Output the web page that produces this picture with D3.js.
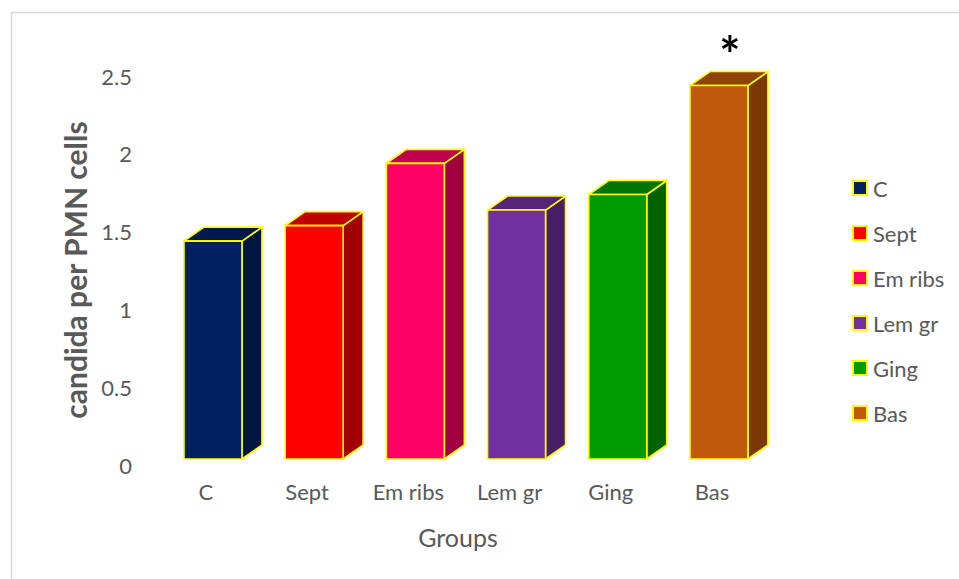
<!DOCTYPE html>
<html>
<head>
<meta charset="utf-8">
<script src="https://cdn.jsdelivr.net/npm/d3@7"></script>
<style>
  html, body { margin: 0; padding: 0; background: #ffffff; }
  svg { display: block; }
  text { font-family: Lato, "Open Sans", sans-serif; fill: #595959; }
</style>
</head>
<body>
<svg id="chart" width="959" height="579"></svg>
<script>
// Group names and mean candida counts per PMN cell
const categories = ["C", "Sept", "Em ribs", "Lem gr", "Ging", "Bas"];
const values = [1.4, 1.5, 1.9, 1.6, 1.7, 2.4];
const yTicks = [0, 0.5, 1, 1.5, 2, 2.5];
const significant = ["Bas"];

// Face colours per group: front, top, side
const palette = {
  "C":       ["#002060", "#001a4e", "#001540"],
  "Sept":    ["#ff0000", "#bf0000", "#a00000"],
  "Em ribs": ["#ff0066", "#bf004c", "#a0003f"],
  "Lem gr":  ["#7030a0", "#552479", "#481f66"],
  "Ging":    ["#009900", "#007400", "#006100"],
  "Bas":     ["#c05a0a", "#8f4307", "#7a3906"]
};

const svg = d3.select("#chart");

// Outer chart frame
svg.append("rect")
  .attr("x", 11.5).attr("y", 12.5)
  .attr("width", 960).attr("height", 580)
  .attr("fill", "none").attr("stroke", "#d9d9d9").attr("stroke-width", 1.5);

const x = d3.scaleBand()
  .domain(categories)
  .range([153.6, 778.3])
  .paddingInner(0.427)
  .paddingOuter(0.3);

const y = d3.scaleLinear().domain([0, 2.5]).range([466, 77]);

// Oblique depth of each column
const depthX = 20, depthY = -14, setBack = 7;

// Value axis labels
const yAxis = d3.axisLeft(y).tickValues(yTicks).tickSize(0).tickPadding(0)
  .tickFormat(d3.format("~g"));
const gy = svg.append("g").attr("transform", "translate(132,0)").call(yAxis);
gy.select(".domain").remove();
gy.selectAll("text").style("font-size", "22px").attr("fill", "#595959")
  .style("font-family", "Lato, 'Open Sans', sans-serif");

// Category labels
const xAxis = d3.axisBottom(x).tickSize(0).tickPadding(0);
const gx = svg.append("g").attr("transform", "translate(-7,484)").call(xAxis);
gx.select(".domain").remove();
gx.selectAll("text").style("font-size", "22px").attr("fill", "#595959")
  .style("font-family", "Lato, 'Open Sans', sans-serif");

// 3D columns
const bars = svg.append("g").selectAll("g.bar")
  .data(categories.map((c, i) => ({ c, v: values[i] })))
  .join("g").attr("class", "bar");

bars.each(function(d) {
  const g = d3.select(this);
  const x0 = x(d.c), w = x.bandwidth();
  const yb = y(0) - setBack, yt = y(d.v) - setBack;
  const [front, top, side] = palette[d.c];
  const poly = pts => pts.map(p => p.join(",")).join(" ");
  const edge = sel => sel.attr("stroke", "#ffff00").attr("stroke-width", 1.6)
    .attr("stroke-linejoin", "round");

  g.append("polygon")
    .attr("points", poly([[x0 + w, yt], [x0 + w + depthX, yt + depthY], [x0 + w + depthX, yb + depthY], [x0 + w, yb]]))
    .attr("fill", side).call(edge);
  g.append("polygon")
    .attr("points", poly([[x0, yt], [x0 + depthX, yt + depthY], [x0 + w + depthX, yt + depthY], [x0 + w, yt]]))
    .attr("fill", top).call(edge);
  g.append("rect")
    .attr("x", x0).attr("y", yt).attr("width", w).attr("height", yb - yt)
    .attr("fill", front).call(edge);
});

// Significance marker
svg.append("g").selectAll("text.star")
  .data(significant)
  .join("text").attr("class", "star")
  .attr("x", d => x(d) + x.bandwidth() / 2 + 11)
  .attr("y", d => y(values[categories.indexOf(d)]) - setBack - 13)
  .attr("text-anchor", "middle")
  .style("font-size", "50px").style("font-weight", "bold").style("fill", "#000000")
  .text("*");

// Axis titles
svg.append("text")
  .attr("transform", "translate(75,270) rotate(-90)")
  .attr("text-anchor", "middle").attr("dominant-baseline", "central")
  .style("font-size", "30px").style("font-weight", "bold")
  .text("candida per PMN cells");

svg.append("text")
  .attr("x", 458).attr("y", 537)
  .attr("text-anchor", "middle").attr("dominant-baseline", "central")
  .style("font-size", "25px")
  .text("Groups");

// Legend
const legend = svg.append("g").selectAll("g.item")
  .data(categories)
  .join("g").attr("class", "item")
  .attr("transform", (d, i) => `translate(853,${188 + i * 45})`);
legend.append("rect")
  .attr("x", 0).attr("y", -7).attr("width", 14).attr("height", 14)
  .attr("fill", d => palette[d][0]).attr("stroke", "#ffff00").attr("stroke-width", 2);
legend.append("text")
  .attr("x", 20).attr("y", 0).attr("dominant-baseline", "central")
  .style("font-size", "22px")
  .text(d => d);
</script>
</body>
</html>
